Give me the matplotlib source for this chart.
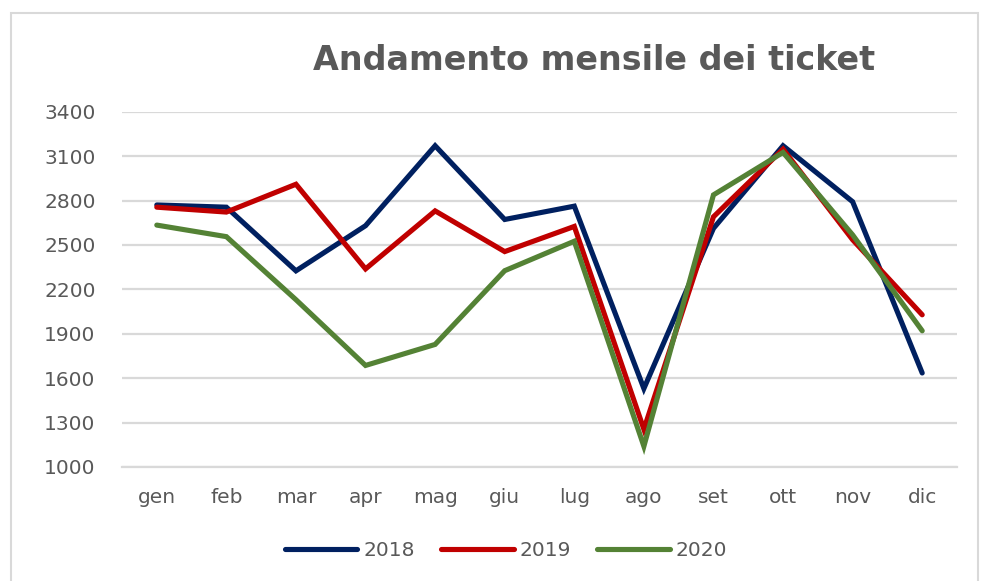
import matplotlib.pyplot as plt
from matplotlib.patches import Rectangle

# monthly ticket counts
months = ['gen', 'feb', 'mar', 'apr', 'mag', 'giu', 'lug', 'ago', 'set', 'ott', 'nov', 'dic']
tickets_2018 = [2770, 2755, 2325, 2630, 3170, 2672, 2762, 1530, 2612, 3170, 2792, 1635]
tickets_2019 = [2755, 2722, 2910, 2338, 2730, 2455, 2625, 1255, 2690, 3147, 2535, 2028]
tickets_2020 = [2634, 2556, 2130, 1686, 1828, 2326, 2525, 1140, 2838, 3125, 2568, 1920]
years = ['2018', '2019', '2020']
y_ticks = [1000, 1300, 1600, 1900, 2200, 2500, 2800, 3100, 3400]

colors = ['#002060', '#C00000', '#548235']
text_grey = '#595959'

plt.rcParams['font.family'] = ['DejaVu Sans']

fig = plt.figure(figsize=(9.81, 5.81), dpi=100)
ax = fig.add_axes([122 / 981, 1 - 467 / 581, (957 - 122) / 981, (467 - 111.7) / 581])

x = range(len(months))
for series, year, col in zip([tickets_2018, tickets_2019, tickets_2020], years, colors):
    ax.plot(x, series, color=col, linewidth=3.7, label=year,
            solid_capstyle='round', solid_joinstyle='miter')

ax.set_xlim(-0.5, len(months) - 0.5)
ax.set_ylim(y_ticks[0], y_ticks[-1])
ax.set_yticks(y_ticks)
ax.set_xticks(list(x))
ax.set_xticklabels(months)
ax.yaxis.grid(True, color='#D9D9D9', linewidth=1.6)
ax.set_axisbelow(True)
for s in ['top', 'right', 'left']:
    ax.spines[s].set_visible(False)
ax.spines['bottom'].set_color('#D9D9D9')
ax.spines['bottom'].set_linewidth(1.6)
ax.tick_params(axis='both', length=0, labelsize=14.5, labelcolor=text_grey)
ax.tick_params(axis='y', pad=19)
ax.tick_params(axis='x', pad=15)

fig.text(594 / 981, 1 - 61 / 581, 'Andamento mensile dei ticket', ha='center', va='center',
         fontsize=24, fontweight='bold', color=text_grey)

leg = ax.legend(loc='center', bbox_to_anchor=(506 / 981, 1 - 551 / 581),
                bbox_transform=fig.transFigure, ncol=3, frameon=False,
                fontsize=14.5, handlelength=3.6, handletextpad=0.3, columnspacing=1.3)
for t in leg.get_texts():
    t.set_color(text_grey)

# outer chart border like the spreadsheet chart frame
fig.patches.append(Rectangle((11 / 981, -0.05), (978 - 11) / 981, (1 - 13 / 581) + 0.05,
                             transform=fig.transFigure, fill=False,
                             edgecolor='#D9D9D9', linewidth=1.5))

fig.savefig('out.png', dpi=100)
